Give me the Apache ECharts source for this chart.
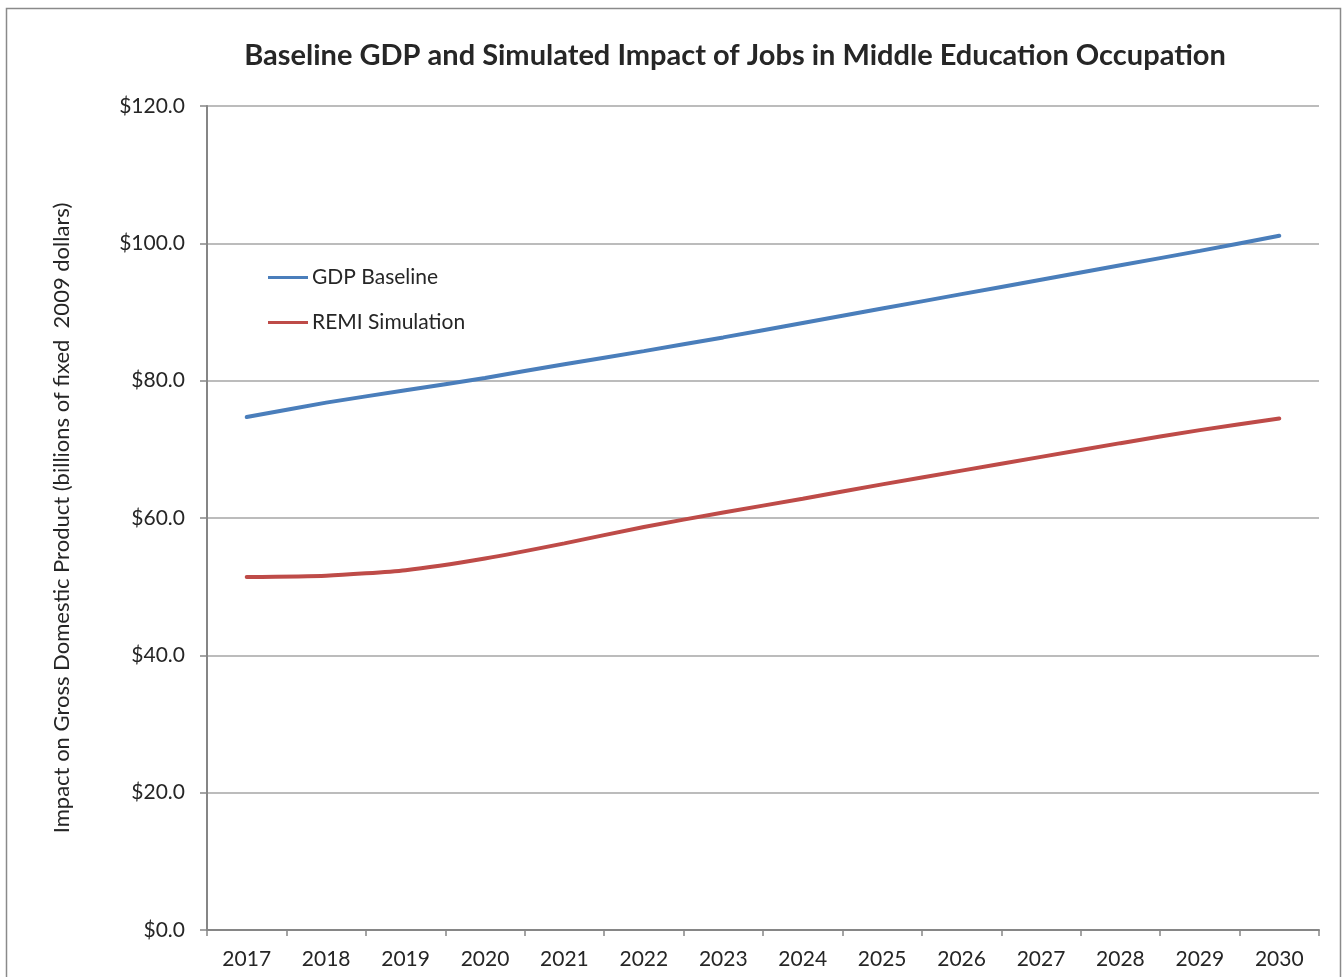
<!DOCTYPE html>
<html>
<head>
<meta charset="utf-8">
<script src="https://cdn.jsdelivr.net/npm/echarts@6/dist/echarts.min.js"></script>
<style>
html,body{margin:0;padding:0;background:#fff;}
#chart{width:1343px;height:977px;}
</style>
</head>
<body>
<div id="chart"></div>
<script>
const titleText = 'Baseline GDP and Simulated Impact of Jobs in Middle Education Occupation';
const yAxisName = 'Impact on Gross Domestic Product (billions of fixed  2009 dollars)';
const years = ['2017','2018','2019','2020','2021','2022','2023','2024','2025','2026','2027','2028','2029','2030'];
const gdpBaseline = [74.7, 76.8, 78.6, 80.4, 82.4, 84.3, 86.3, 88.4, 90.5, 92.6, 94.7, 96.8, 98.9, 101.1];
const remiSimulation = [51.4, 51.6, 52.4, 54.1, 56.3, 58.7, 60.8, 62.8, 64.9, 66.9, 68.9, 70.9, 72.8, 74.5];
const yTicks = { min: 0, max: 120, interval: 20 };

const FONT = 'Lato, "Open Sans", sans-serif';
const TXT = '#262626';
const chart = echarts.init(document.getElementById('chart'), null, {renderer: 'canvas'});
chart.setOption({
  backgroundColor: '#fff',
  animation: false,
  title: {
    text: titleText,
    left: 730,
    textAlign: 'center',
    top: 36,
    textStyle: {fontFamily: FONT, fontWeight: 'bold', fontSize: 29, color: TXT}
  },
  graphic: [{
    type: 'rect',
    shape: {x: 6.5, y: 8.5, width: 1334, height: 990},
    style: {fill: null, stroke: '#8a8a8a', lineWidth: 1.5},
    silent: true
  }],
  legend: {
    orient: 'vertical',
    left: 263,
    top: 262,
    padding: 5,
    itemWidth: 40,
    itemHeight: 20,
    itemGap: 24,
    icon: 'path://M0,0L40,0L40,3L0,3Z',
    data: [
      {name: 'GDP Baseline', itemStyle: {color: '#4a7ebb'}},
      {name: 'REMI Simulation', itemStyle: {color: '#be4b48'}}
    ],
    textStyle: {fontFamily: FONT, fontSize: 21, color: TXT, padding: [0,0,0,-1]}
  },
  grid: {left: 207, right: 24, top: 106, bottom: 47, containLabel: false},
  xAxis: {
    type: 'category',
    data: years,
    boundaryGap: true,
    axisLine: {lineStyle: {color: '#868686', width: 2}},
    axisTick: {show: true, length: 6, lineStyle: {color: '#868686', width: 1.5}},
    axisLabel: {fontFamily: FONT, fontSize: 21, color: TXT, margin: 19},
    splitLine: {show: false}
  },
  yAxis: {
    type: 'value',
    min: yTicks.min, max: yTicks.max, interval: yTicks.interval,
    name: yAxisName,
    nameLocation: 'middle',
    nameGap: 134,
    nameTextStyle: {fontFamily: FONT, fontSize: 22, color: TXT},
    axisLine: {show: true, lineStyle: {color: '#868686', width: 2}},
    axisTick: {show: true, length: 7, lineStyle: {color: '#868686', width: 1.5}},
    axisLabel: {fontFamily: FONT, fontSize: 21, color: TXT, margin: 22,
      formatter: v => '$' + v.toFixed(1)},
    splitLine: {show: true, lineStyle: {color: '#a6a6a6', width: 1.5}}
  },
  series: [
    {name: 'GDP Baseline', type: 'line', data: gdpBaseline, symbol: 'none', smooth: 0.2,
      lineStyle: {color: '#4a7ebb', width: 4, cap: 'round'}, itemStyle: {color: '#4a7ebb'}},
    {name: 'REMI Simulation', type: 'line', data: remiSimulation, symbol: 'none', smooth: 0.2,
      lineStyle: {color: '#be4b48', width: 4, cap: 'round'}, itemStyle: {color: '#be4b48'}}
  ]
});
</script>
</body>
</html>
